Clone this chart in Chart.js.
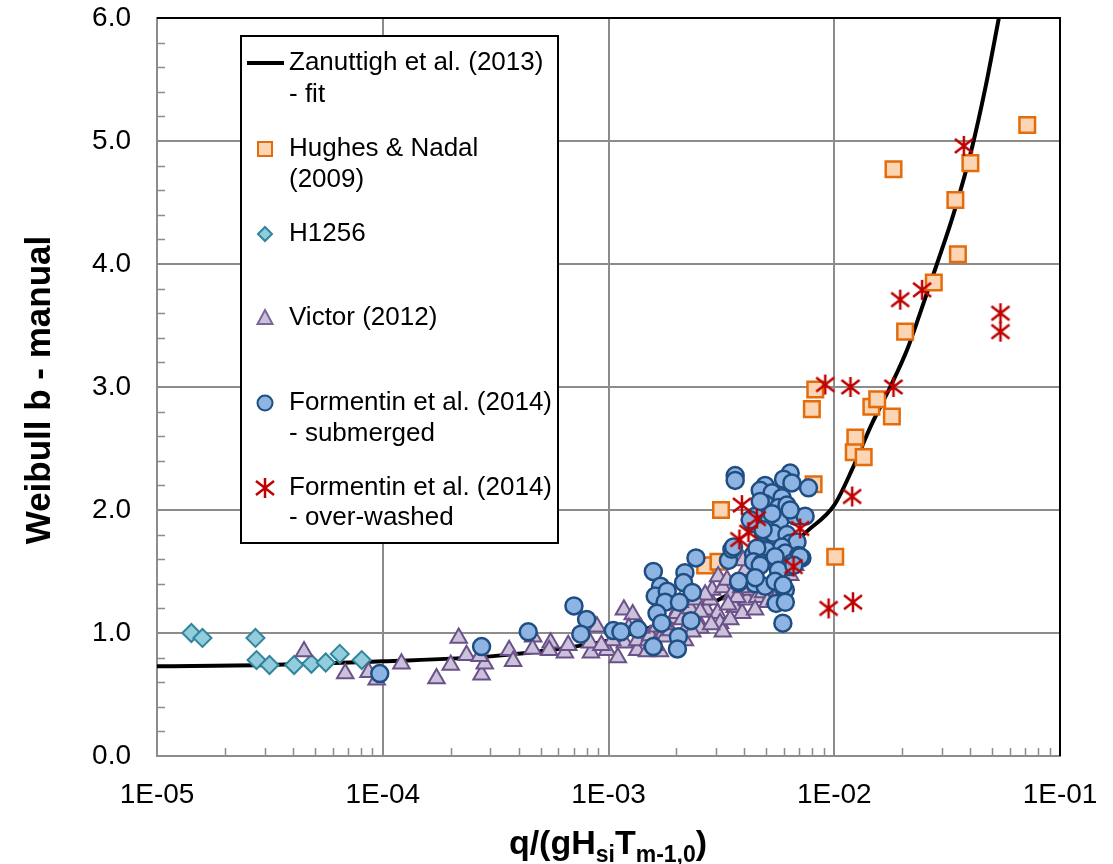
<!DOCTYPE html>
<html>
<head>
<meta charset="utf-8">
<script src="https://cdn.jsdelivr.net/npm/chart.js@4.4.1/dist/chart.umd.min.js"></script>
<style>
  html, body { margin: 0; padding: 0; background: #fff; }
</style>
</head>
<body>
<canvas id="chart" width="1113" height="864"></canvas>
<script>
// axis ticks
const xTickValues = [1e-5, 1e-4, 1e-3, 1e-2, 1e-1];
const xTickLabels = ["1E-05", "1E-04", "1E-03", "1E-02", "1E-01"];
const yTickValues = [0, 1, 2, 3, 4, 5, 6];

// Zanuttigh et al. (2013) fit
const fitX = [1e-5, 3e-5, 1e-4, 3e-4, 6e-4, 1e-3, 1.5e-3, 2e-3, 3e-3, 4e-3, 5e-3, 6e-3, 7.5e-3, 1e-2, 1.2e-2, 1.45e-2, 1.77e-2, 2.1e-2, 2.4e-2, 2.85e-2, 3.38e-2, 4.08e-2, 4.68e-2, 5.36e-2];
const fitY = [0.73, 0.74, 0.77, 0.81, 0.87, 0.94, 1.04, 1.11, 1.26, 1.39, 1.52, 1.65, 1.82, 2.04, 2.33, 2.68, 3.0, 3.3, 3.6, 4.0, 4.41, 4.95, 5.44, 6.0];

// Hughes & Nadal (2009)
const hughesX = [7.16e-2, 1.83e-2, 4.01e-2, 3.44e-2, 3.53e-2, 2.76e-2, 2.06e-2, 8.24e-3, 7.96e-3, 1.46e-2, 1.55e-2, 1.80e-2, 1.24e-2, 1.22e-2, 1.35e-2, 8.1e-3, 3.15e-3, 1.01e-2, 2.68e-3, 3.07e-3];
const hughesY = [5.13, 4.77, 4.82, 4.52, 4.08, 3.85, 3.45, 2.98, 2.82, 2.84, 2.90, 2.76, 2.59, 2.47, 2.43, 2.21, 2.0, 1.62, 1.55, 1.58];

// H1256
const h1256X = [1.42e-5, 1.59e-5, 2.73e-5, 2.76e-5, 3.15e-5, 4.05e-5, 4.83e-5, 5.59e-5, 6.45e-5, 8.07e-5];
const h1256Y = [1.0, 0.96, 0.96, 0.78, 0.74, 0.74, 0.75, 0.76, 0.83, 0.78];

// Victor (2012)
const victorX = [4.48e-5, 6.82e-5, 8.65e-5, 9.4e-5, 1.21e-4, 1.73e-4, 2.0e-4, 2.17e-4, 2.35e-4, 2.74e-4, 2.83e-4, 2.69e-4, 3.63e-4, 3.78e-4, 4.64e-4, 4.61e-4, 5.54e-4, 5.46e-4, 6.41e-4, 6.63e-4,
  8.36e-4, 8.28e-4, 8.89e-4, 9.85e-4, 1.1e-3, 1.17e-3, 1.28e-3, 1.18e-3, 1.34e-3, 1.34e-3, 1.5e-3, 1.48e-3, 1.69e-3, 1.75e-3, 1.94e-3, 2.04e-3, 2.23e-3, 1.53e-3, 1.64e-3, 1.78e-3,
  2.01e-3, 2.12e-3, 2.47e-3, 2.55e-3, 2.30e-3, 2.71e-3, 3.04e-3, 2.82e-3, 3.12e-3, 3.21e-3, 2.88e-3, 3.21e-3, 3.51e-3, 3.06e-3, 3.35e-3, 3.62e-3, 3.91e-3, 4.11e-3, 4.24e-3, 3.72e-3,
  3.46e-3, 4.56e-3, 4.84e-3, 5.20e-3, 5.05e-3, 4.03e-3, 3.95e-3, 5.77e-3, 6.38e-3, 6.03e-3, 5.45e-3, 6.71e-3, 4.70e-3, 4.31e-3, 2.68e-3, 2.43e-3, 2.18e-3, 1.88e-3, 1.60e-3, 1.39e-3,
  1.04e-3, 9.3e-4, 1.23e-3, 2.35e-3, 2.85e-3, 3.39e-3, 3.87e-3, 2.55e-3, 4.46e-3, 1.78e-3, 2.07e-3];
const victorY = [0.85, 0.67, 0.68, 0.62, 0.75, 0.63, 0.74, 0.96, 0.82, 0.66, 0.75, 0.81, 0.86, 0.77, 0.97, 0.87, 0.92, 0.86, 0.84, 0.90,
  0.84, 0.92, 1.05, 0.86, 0.80, 1.19, 1.15, 0.92, 0.86, 0.94, 0.94, 0.85, 0.85, 1.00, 1.12, 1.20, 1.05, 0.98, 1.05, 0.97,
  1.16, 1.11, 1.11, 1.04, 1.20, 1.19, 1.16, 1.27, 1.08, 1.01, 1.35, 1.37, 1.31, 1.46, 1.43, 1.21, 1.16, 1.27, 1.35, 1.29,
  1.11, 1.29, 1.33, 1.37, 1.25, 1.51, 1.59, 1.43, 1.47, 1.31, 1.27, 1.55, 1.39, 1.45, 1.31, 1.27, 0.94, 1.02, 0.90, 1.04,
  0.94, 0.90, 1.04, 1.01, 1.07, 1.23, 1.37, 1.17, 1.19, 1.07, 1.25];

// Formentin et al. (2014) - submerged
const subX = [9.7e-5, 2.74e-4, 4.41e-4, 7.03e-4, 8.0e-4, 7.54e-4, 1.05e-3, 1.135e-3, 1.35e-3,
  1.58e-3, 1.70e-3, 1.61e-3, 1.82e-3, 1.78e-3, 1.64e-3, 1.72e-3, 1.58e-3, 2.18e-3, 2.15e-3, 2.35e-3, 2.06e-3, 2.32e-3, 2.04e-3, 2.02e-3, 2.44e-3,
  3.40e-3, 3.77e-3, 3.52e-3, 4.39e-3, 5.04e-3, 3.64e-3, 3.64e-3, 6.38e-3, 5.96e-3, 6.49e-3, 7.69e-3, 4.94e-3, 4.70e-3, 5.30e-3, 5.87e-3,
  4.94e-3, 5.66e-3, 6.17e-3, 4.46e-3, 5.16e-3, 5.77e-3, 6.71e-3, 7.43e-3, 4.85e-3, 5.38e-3, 6.17e-3, 6.38e-3, 6.84e-3, 4.54e-3, 5.87e-3,
  6.07e-3, 6.95e-3, 4.39e-3, 4.78e-3, 5.38e-3, 7.19e-3, 6.49e-3, 4.70e-3, 5.30e-3, 4.37e-3, 6.38e-3, 4.84e-3, 3.58e-3, 5.47e-3, 7.06e-3,
  6.38e-3, 5.66e-3, 4.70e-3, 3.77e-3, 4.46e-3, 4.94e-3, 5.47e-3, 6.07e-3, 5.53e-3, 6.07e-3, 5.92e-3, 4.47e-3, 5.94e-3, 6.62e-3, 4.24e-3];
const subY = [0.67, 0.89, 1.01, 1.22, 1.11, 0.99, 1.02, 1.01, 1.03,
  1.50, 1.38, 1.30, 1.34, 1.25, 1.16, 1.08, 0.89, 1.49, 1.41, 1.33, 1.25, 1.10, 0.97, 0.87, 1.61,
  1.59, 1.41, 1.68, 1.64, 1.67, 2.28, 2.24, 2.30, 2.25, 2.22, 2.18, 2.20, 2.16, 2.14, 2.10,
  2.05, 2.02, 2.04, 1.95, 1.92, 1.92, 1.95, 1.95, 1.82, 1.81, 1.80, 1.73, 1.74, 1.69, 1.70,
  1.65, 1.63, 1.58, 1.57, 1.59, 1.61, 1.57, 2.07, 1.97, 1.89, 2.00, 1.84, 1.70, 1.62, 1.62,
  1.54, 1.51, 1.55, 1.42, 1.40, 1.38, 1.42, 1.35, 1.24, 1.25, 1.08, 1.45, 1.39, 1.55, 1.92];

// Formentin et al. (2014) - over-washed
const overX = [3.75e-2, 1.96e-2, 2.45e-2, 5.45e-2, 5.45e-2, 9.12e-3, 1.18e-2, 1.83e-2, 1.2e-2, 3.9e-3, 4.54e-3, 4.17e-3, 3.8e-3, 7.06e-3, 6.6e-3, 9.44e-3, 1.21e-2];
const overY = [4.96, 3.71, 3.79, 3.60, 3.45, 3.02, 3.0, 3.0, 2.11, 2.04, 1.93, 1.82, 1.76, 1.85, 1.54, 1.20, 1.25];

const FONT = "'Liberation Sans', Arial, sans-serif";
const GRID = "#8c8c8c";

function zip(xs, ys) {
  const n = Math.min(xs.length, ys.length);
  const out = [];
  for (let i = 0; i < n; i++) out.push({ x: xs[i], y: ys[i] });
  return out;
}

function drawStar(g, x, y, color) {
  g.save();
  g.strokeStyle = color;
  g.lineWidth = 2.5;
  g.beginPath();
  g.moveTo(x, y - 10); g.lineTo(x, y + 10);
  g.moveTo(x - 9, y - 7); g.lineTo(x + 9, y + 7);
  g.moveTo(x + 9, y - 7); g.lineTo(x - 9, y + 7);
  g.stroke();
  g.restore();
}

function makeStarImage() {
  const c = document.createElement("canvas");
  c.width = 24;
  c.height = 24;
  drawStar(c.getContext("2d"), 12, 12, "#c00000");
  return c;
}

const starImg = makeStarImage();

// legend marker painter (same look as the dataset points)
function legendMarker(g, kind, x, y) {
  g.save();
  g.lineWidth = 2;
  g.beginPath();
  if (kind === "square") {
    g.fillStyle = "#fcd5b5"; g.strokeStyle = "#e46c0a";
    g.rect(x - 7, y - 7, 14, 14);
  } else if (kind === "diamond") {
    g.fillStyle = "#93cddd"; g.strokeStyle = "#31859c";
    g.moveTo(x - 7, y); g.lineTo(x, y - 7); g.lineTo(x + 7, y); g.lineTo(x, y + 7); g.closePath();
  } else if (kind === "triangle") {
    g.fillStyle = "#ccc1da"; g.strokeStyle = "#7a6699";
    g.moveTo(x, y - 8); g.lineTo(x + 7.5, y + 6); g.lineTo(x - 7.5, y + 6); g.closePath();
  } else if (kind === "circle") {
    g.fillStyle = "#8db4e2"; g.strokeStyle = "#1f4e82";
    g.arc(x, y, 7.5, 0, Math.PI * 2);
  }
  g.fill();
  g.stroke();
  g.restore();
}

const framePlugin = {
  id: "frame",
  beforeDatasetsDraw(chart) {
    const { ctx, chartArea: a, scales } = chart;
    ctx.save();
    ctx.strokeStyle = GRID;
    ctx.lineWidth = 1.5;
    ctx.beginPath();
    // y minor ticks (inside)
    for (let v = 0.2; v < 6; v += 0.2) {
      if (Math.abs(v - Math.round(v)) < 1e-6) continue;
      const py = Math.round(scales.y.getPixelForValue(v)) + 0.5;
      ctx.moveTo(a.left, py);
      ctx.lineTo(a.left + 8, py);
    }
    // x minor ticks (inside)
    for (let e = -5; e < -1; e++) {
      for (let m = 2; m <= 9; m++) {
        const px = Math.round(scales.x.getPixelForValue(m * Math.pow(10, e))) + 0.5;
        ctx.moveTo(px, a.bottom);
        ctx.lineTo(px, a.bottom - 8);
      }
    }
    ctx.stroke();
    ctx.restore();
  },
  afterDraw(chart) {
    const { ctx, chartArea: a } = chart;
    ctx.save();
    // top and right frame
    ctx.strokeStyle = "#000";
    ctx.lineWidth = 2;
    ctx.beginPath();
    ctx.moveTo(a.left, a.top);
    ctx.lineTo(a.right, a.top);
    ctx.lineTo(a.right, a.bottom);
    ctx.stroke();

    // legend box
    const lx = 241, ly = 36, lw = 317, lh = 507;
    ctx.fillStyle = "#fff";
    ctx.fillRect(lx, ly, lw, lh);
    ctx.strokeStyle = "#000";
    ctx.lineWidth = 2;
    ctx.strokeRect(lx, ly, lw, lh);

    ctx.fillStyle = "#000";
    ctx.font = "26px " + FONT;
    ctx.textBaseline = "middle";
    ctx.textAlign = "left";
    const tx = 289, mx = 265;

    ctx.lineWidth = 4;
    ctx.beginPath();
    ctx.moveTo(247, 63);
    ctx.lineTo(284, 63);
    ctx.stroke();
    ctx.fillText("Zanuttigh et al. (2013)", tx, 63);
    ctx.fillText("- fit", tx, 95);

    legendMarker(ctx, "square", mx, 149);
    ctx.fillText("Hughes & Nadal", tx, 149);
    ctx.fillText("(2009)", tx, 180);

    legendMarker(ctx, "diamond", mx, 234);
    ctx.fillText("H1256", tx, 234);

    legendMarker(ctx, "triangle", mx, 318);
    ctx.fillText("Victor (2012)", tx, 318);

    legendMarker(ctx, "circle", mx, 403);
    ctx.fillText("Formentin et al. (2014)", tx, 403);
    ctx.fillText("- submerged", tx, 434);

    drawStar(ctx, mx, 488, "#c00000");
    ctx.fillText("Formentin et al. (2014)", tx, 488);
    ctx.fillText("- over-washed", tx, 518);

    // y axis title
    ctx.save();
    ctx.translate(40, 390);
    ctx.rotate(-Math.PI / 2);
    ctx.font = "bold 35px " + FONT;
    ctx.textAlign = "center";
    ctx.textBaseline = "middle";
    ctx.fillText("Weibull b - manual", 0, 0);
    ctx.restore();

    // x axis title with subscripts
    const big = "bold 34px " + FONT;
    const small = "bold 23px " + FONT;
    const parts = [["q/(gH", big, 0], ["si", small, 8], ["T", big, 0], ["m-1,0", small, 8], [")", big, 0]];
    let total = 0;
    parts.forEach((p) => { ctx.font = p[1]; total += ctx.measureText(p[0]).width; });
    let x = 608 - total / 2;
    ctx.textBaseline = "alphabetic";
    ctx.textAlign = "left";
    parts.forEach((p) => {
      ctx.font = p[1];
      ctx.fillText(p[0], x, 854 + p[2]);
      x += ctx.measureText(p[0]).width;
    });
    ctx.restore();
  },
};

const ctx = document.getElementById("chart").getContext("2d");

new Chart(ctx, {
  type: "scatter",
  data: {
    datasets: [
      {
        label: "Zanuttigh et al. (2013) - fit",
        data: zip(fitX, fitY),
        showLine: true,
        borderColor: "#000",
        borderWidth: 4,
        pointRadius: 0,
        cubicInterpolationMode: "monotone",
        order: 6,
      },
      {
        label: "Hughes & Nadal (2009)",
        data: zip(hughesX, hughesY),
        pointStyle: "rect",
        pointRadius: 11,
        backgroundColor: "#fcd5b5",
        borderColor: "#e46c0a",
        borderWidth: 2.5,
        order: 5,
      },
      {
        label: "H1256",
        data: zip(h1256X, h1256Y),
        pointStyle: "rectRot",
        pointRadius: 9,
        backgroundColor: "#93cddd",
        borderColor: "#31859c",
        borderWidth: 2,
        order: 4,
      },
      {
        label: "Victor (2012)",
        data: zip(victorX, victorY),
        pointStyle: "triangle",
        pointRadius: 9.5,
        backgroundColor: "#ccc1da",
        borderColor: "#6a5289",
        borderWidth: 2,
        order: 3,
      },
      {
        label: "Formentin et al. (2014) - submerged",
        data: zip(subX, subY),
        pointStyle: "circle",
        pointRadius: 8.5,
        backgroundColor: "#8db4e2",
        borderColor: "#1f4e82",
        borderWidth: 2.5,
        order: 2,
      },
      {
        label: "Formentin et al. (2014) - over-washed",
        data: zip(overX, overY),
        pointStyle: starImg,
        order: 1,
      },
    ],
  },
  options: {
    responsive: false,
    animation: false,
    events: [],
    layout: { padding: { top: 18, right: 53, left: 0, bottom: 0 } },
    plugins: {
      legend: { display: false },
      tooltip: { enabled: false },
    },
    scales: {
      x: {
        type: "logarithmic",
        min: 1e-5,
        max: 1e-1,
        afterBuildTicks: (s) => { s.ticks = xTickValues.map((v) => ({ value: v })); },
        afterFit: (s) => {
          s.height = 108;
          s.paddingLeft = 0;
          s.paddingRight = 0;
        },
        ticks: {
          callback: (v, i) => xTickLabels[i],
          font: { family: FONT, size: 28 },
          color: "#000",
          padding: 22,
          maxRotation: 0,
          autoSkip: false,
        },
        grid: { color: GRID, lineWidth: 2, drawTicks: false },
        border: { color: GRID, width: 2 },
      },
      y: {
        min: 0,
        max: 6,
        afterBuildTicks: (s) => { s.ticks = yTickValues.map((v) => ({ value: v })); },
        afterFit: (s) => {
          s.width = 157;
          s.paddingTop = 0;
          s.paddingBottom = 0;
        },
        ticks: {
          callback: (v) => Number(v).toFixed(1),
          font: { family: FONT, size: 28 },
          color: "#000",
          padding: 26,
        },
        grid: { color: GRID, lineWidth: 2, drawTicks: false },
        border: { color: GRID, width: 2 },
      },
    },
  },
  plugins: [framePlugin],
});
</script>
</body>
</html>
